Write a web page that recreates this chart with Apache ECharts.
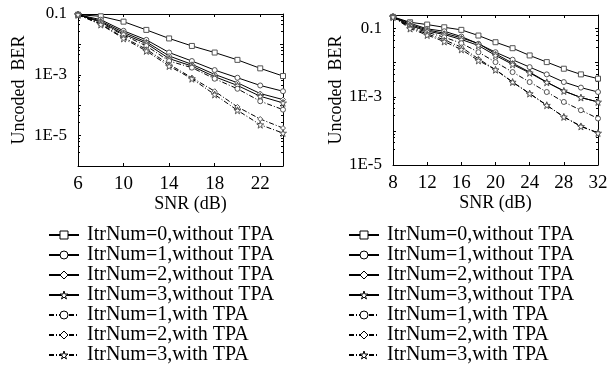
<!DOCTYPE html>
<html><head><meta charset="utf-8">
<script src="https://cdn.jsdelivr.net/npm/echarts@6/dist/echarts.min.js"></script>
<style>html,body{margin:0;padding:0;background:#fff}#c{width:613px;height:373px}</style>
</head><body><div id="c"></div>
<script>
// ---- data ----
const seriesNames = [
  'ItrNum=0,without TPA', 'ItrNum=1,without TPA', 'ItrNum=2,without TPA', 'ItrNum=3,without TPA',
  'ItrNum=1,with TPA', 'ItrNum=2,with TPA', 'ItrNum=3,with TPA'
];
const snrLeft = [6, 8, 10, 12, 14, 16, 18, 20, 22, 24];
const snrRight = [8, 10, 12, 14, 16, 18, 20, 22, 24, 26, 28, 30, 32];

const leftItr0NoTPA = [0.095, 0.084, 0.056, 0.030, 0.0157, 0.0089, 0.0054, 0.0031, 0.00163, 0.00091];
const leftItr1NoTPA = [0.095, 0.065, 0.028, 0.0141, 0.0054, 0.00284, 0.00143, 0.0008, 0.000446, 0.000288];
const leftItr2NoTPA = [0.095, 0.0586, 0.0248, 0.0121, 0.00416, 0.00221, 0.00103, 0.000547, 0.000242, 0.000153];
const leftItr3NoTPA = [0.095, 0.0543, 0.0218, 0.0107, 0.00341, 0.00194, 0.000865, 0.000446, 0.000197, 0.000119];
const leftItr1TPA   = [0.095, 0.0503, 0.0202, 0.0089, 0.00284, 0.00172, 0.000743, 0.000347, 0.000135, 0.0000714];
const leftItr2TPA   = [0.095, 0.0467, 0.0169, 0.00693, 0.00221, 0.0008, 0.000288, 0.0000879, 0.0000352, 0.0000177];
const leftItr3TPA   = [0.095, 0.0449, 0.0157, 0.0061, 0.00194, 0.000743, 0.000224, 0.0000678, 0.0000228, 0.0000121];

const rightItr0NoTPA = [0.22, 0.153, 0.131, 0.109, 0.0916, 0.0625, 0.0398, 0.0266, 0.0163, 0.0104, 0.00665, 0.00454, 0.0034];
const rightItr1NoTPA = [0.22, 0.143, 0.098, 0.0834, 0.0583, 0.0357, 0.0203, 0.0122, 0.00741, 0.00454, 0.0027, 0.00186, 0.00138];
const rightItr2NoTPA = [0.22, 0.131, 0.0916, 0.073, 0.0535, 0.0365, 0.0182, 0.0097, 0.0053, 0.0027, 0.00148, 0.00095, 0.000705];
const rightItr3NoTPA = [0.22, 0.122, 0.0845, 0.0668, 0.0478, 0.0319, 0.0163, 0.0089, 0.00502, 0.00265, 0.00148, 0.00095, 0.000705];
const rightItr1TPA   = [0.22, 0.114, 0.078, 0.0557, 0.0372, 0.0203, 0.0104, 0.0053, 0.0027, 0.00138, 0.000705, 0.000404, 0.000231];
const rightItr2TPA   = [0.22, 0.107, 0.07, 0.0468, 0.0284, 0.013, 0.00622, 0.0027, 0.00124, 0.000565, 0.000257, 0.000138, 0.0000877];
const rightItr3TPA   = [0.22, 0.1, 0.0646, 0.0417, 0.0244, 0.0116, 0.0062, 0.0027, 0.00124, 0.000565, 0.000257, 0.000135, 0.0000865];

const leftXTicks = [6, 10, 14, 18, 22];
const rightXTicks = [8, 12, 16, 20, 24, 28, 32];
const yTickValues = [0.1, 1e-3, 1e-5];
const yTickLabels = ['0.1', '1E-3', '1E-5'];

// ---- styling ----
const FONT = 'Liberation Serif';
const STAR = 'path://M50,0 L61,35 L98,35 L68,57 L79,91 L50,70 L21,91 L32,57 L2,35 L39,35 Z';
const symbols = ['rect', 'circle', 'diamond', STAR, 'circle', 'diamond', STAR];
const dashed = [false, false, false, false, true, true, true];
const leftData = [leftItr0NoTPA, leftItr1NoTPA, leftItr2NoTPA, leftItr3NoTPA, leftItr1TPA, leftItr2TPA, leftItr3TPA];
const rightData = [rightItr0NoTPA, rightItr1NoTPA, rightItr2NoTPA, rightItr3NoTPA, rightItr1TPA, rightItr2TPA, rightItr3TPA];

function yLabel(v) {
  for (let i = 0; i < yTickValues.length; i++) {
    if (Math.abs(Math.log10(v) - Math.log10(yTickValues[i])) < 1e-6) return yTickLabels[i];
  }
  return '';
}

function xAxes(grid, min, max, ticks, nameShift) {
  return [{
    type: 'value', gridIndex: grid, min: min, max: max, position: 'bottom',
    name: 'SNR (dB)', nameLocation: 'middle', nameGap: 25,
    nameTextStyle: { fontFamily: FONT, fontSize: 18, color: '#000', padding: [0, 0, 0, nameShift] },
    axisLine: { show: true, lineStyle: { color: '#000', width: 1 } },
    axisTick: { show: true, inside: true, length: 3, customValues: ticks, lineStyle: { color: '#000' } },
    axisLabel: { customValues: ticks, fontFamily: FONT, fontSize: 19, color: '#000', margin: 9 },
    splitLine: { show: false }
  }, {
    type: 'value', gridIndex: grid, min: min, max: max, position: 'top',
    axisLine: { show: true, onZero: false, lineStyle: { color: '#000', width: 1 } },
    axisTick: { show: true, inside: true, length: 3, customValues: ticks, lineStyle: { color: '#000' } },
    axisLabel: { show: false }, splitLine: { show: false }
  }];
}

function yAxes(grid, min, max, nameGap) {
  const common = {
    type: 'log', logBase: 10, gridIndex: grid, min: min, max: max,
    axisTick: { show: true, inside: true, length: 3, lineStyle: { color: '#000' } },
    minorTick: { show: true, splitNumber: 5, length: 2, lineStyle: { color: '#000' } },
    splitLine: { show: false }, minorSplitLine: { show: false }
  };
  return [Object.assign({}, common, {
    position: 'left',
    name: 'Uncoded  BER', nameLocation: 'middle', nameGap: nameGap,
    nameTextStyle: { fontFamily: FONT, fontSize: 18, color: '#000' },
    axisLine: { show: true, onZero: false, lineStyle: { color: '#000', width: 1 } },
    axisLabel: { formatter: yLabel, fontFamily: FONT, fontSize: 17, color: '#000', margin: 11, showMinLabel: true, showMaxLabel: true }
  }), Object.assign({}, common, {
    position: 'right',
    axisLine: { show: true, onZero: false, lineStyle: { color: '#000', width: 1 } },
    axisLabel: { show: false }
  })];
}

function makeSeries(grid, xs, datasets) {
  return datasets.map((d, i) => ({
    name: seriesNames[i], type: 'line', xAxisIndex: grid * 2, yAxisIndex: grid * 2,
    data: xs.map((x, j) => [x, d[j]]),
    symbol: symbols[i], symbolSize: symbols[i] === STAR ? 7 : 5, showAllSymbol: true,
    lineStyle: { color: '#000', width: 1, type: dashed[i] ? [5, 2, 1, 2] : 'solid' },
    itemStyle: { color: '#fff', borderColor: '#555', borderWidth: 1 },
    emphasis: { disabled: true }, animation: false
  }));
}

function legendCfg(left) {
  return {
    orient: 'vertical', left: left, top: 225, height: 148, padding: 0, data: seriesNames,
    itemWidth: 30, itemHeight: 10, itemGap: 0,
    itemStyle: { color: '#fff', borderColor: '#000', borderWidth: 1 },
    textStyle: { fontFamily: FONT, fontSize: 20, lineHeight: 20, color: '#000', padding: [0, 0, 0, 3] },
    inactiveColor: '#000', selectedMode: false
  };
}

const chart = echarts.init(document.getElementById('c'), null, { renderer: 'canvas' });
chart.setOption({
  animation: false,
  backgroundColor: '#fff',
  grid: [
    { left: 78, right: 330, top: 14, bottom: 207 },
    { left: 393, right: 15, top: 15, bottom: 208 }
  ],
  xAxis: [].concat(xAxes(0, 6, 24, leftXTicks, 20), xAxes(1, 8, 32, rightXTicks, 0)),
  yAxis: [].concat(yAxes(0, 1e-6, 0.1, 50), yAxes(1, 1e-5, 0.25, 47)),
  legend: [legendCfg(48), legendCfg(348)],
  series: [].concat(makeSeries(0, snrLeft, leftData), makeSeries(1, snrRight, rightData))
});
</script></body></html>
